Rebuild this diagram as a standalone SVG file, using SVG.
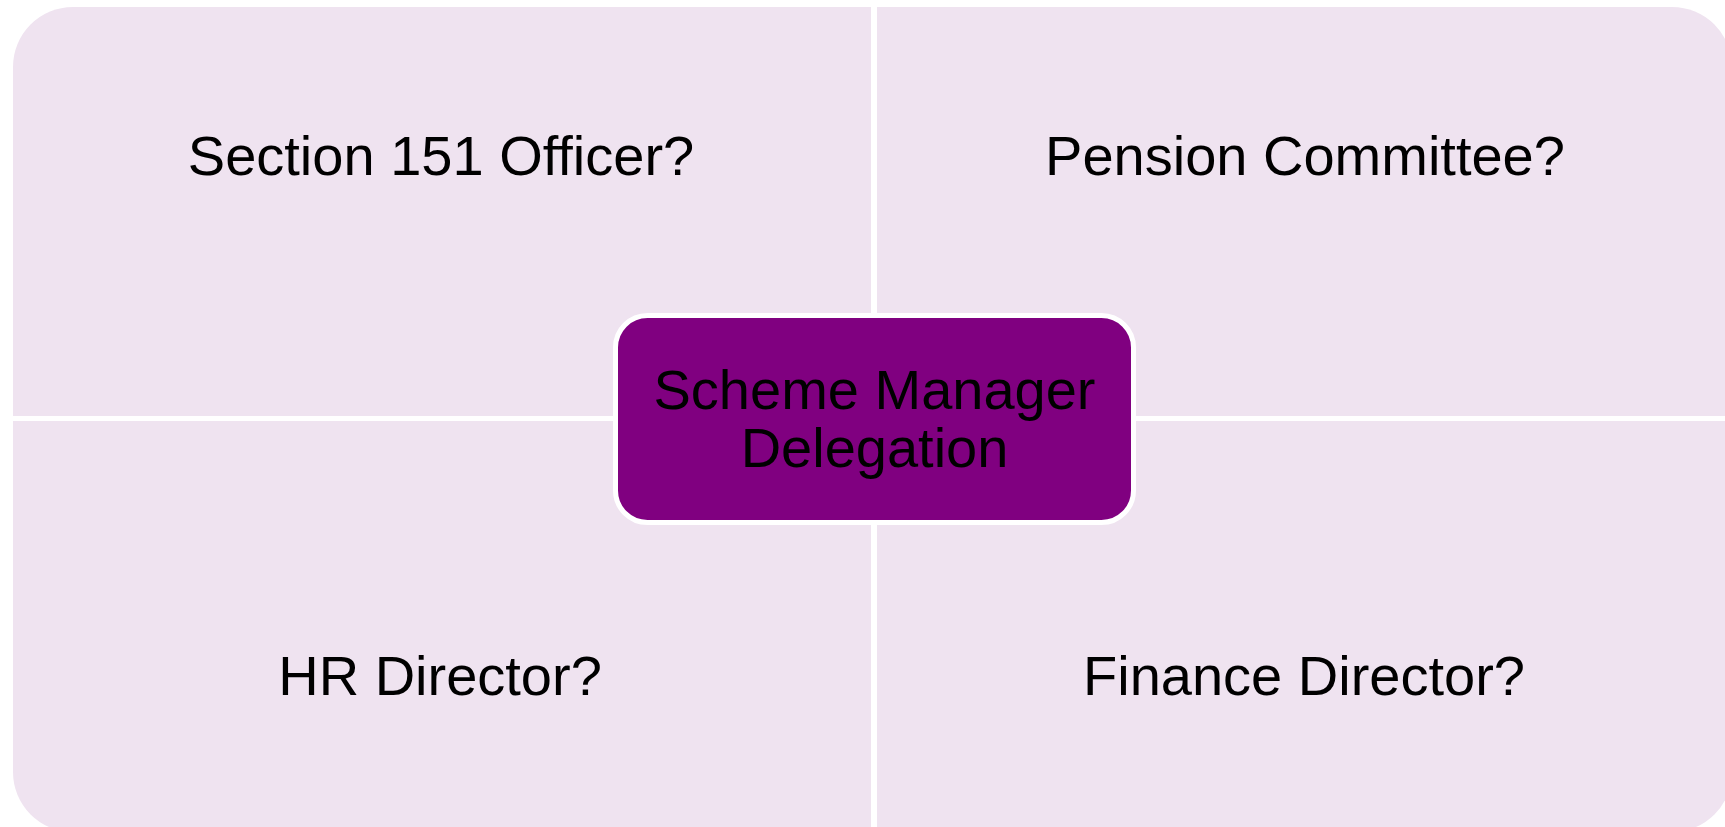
<svg xmlns="http://www.w3.org/2000/svg" width="1725" height="827" viewBox="0 0 1725 827">
  <style>
    .quad { fill: #EFE3F0; }
    .qlabel { font-family: "Liberation Sans", Arial, sans-serif; font-size: 56px; fill: #000000; text-anchor: middle; }
    .center { fill: #800080; stroke: #FFFFFF; stroke-width: 5; }
    .clabel { font-family: "Liberation Sans", Arial, sans-serif; font-size: 56px; fill: #000000; text-anchor: middle; }
  </style>
  <rect x="0" y="0" width="1725" height="827" fill="#FFFFFF"/>
  <g id="node-section151">
    <path class="quad" d="M13,416 V67 A60,60 0 0 1 73,7 H871 V416 Z"/>
    <text class="qlabel" x="441" y="175">Section 151 Officer?</text>
  </g>
  <g id="node-pension-committee">
    <path class="quad" d="M877,7 H1672 A60,60 0 0 1 1732,67 V416 H877 Z"/>
    <text class="qlabel" x="1305" y="175">Pension Committee?</text>
  </g>
  <g id="node-hr-director">
    <path class="quad" d="M13,421 H871 V832 H73 A60,60 0 0 1 13,772 Z"/>
    <text class="qlabel" x="440" y="695">HR Director?</text>
  </g>
  <g id="node-finance-director">
    <path class="quad" d="M877,421 H1732 V772 A60,60 0 0 1 1672,832 H877 Z"/>
    <text class="qlabel" x="1304" y="695">Finance Director?</text>
  </g>
  <g id="connectors"></g>
  <g id="node-scheme-manager">
    <rect class="center" x="615.5" y="315.5" width="518" height="207" rx="32" ry="32"/>
    <text class="clabel" x="874.5" y="409">Scheme Manager</text>
    <text class="clabel" x="874.5" y="467">Delegation</text>
  </g>
</svg>
